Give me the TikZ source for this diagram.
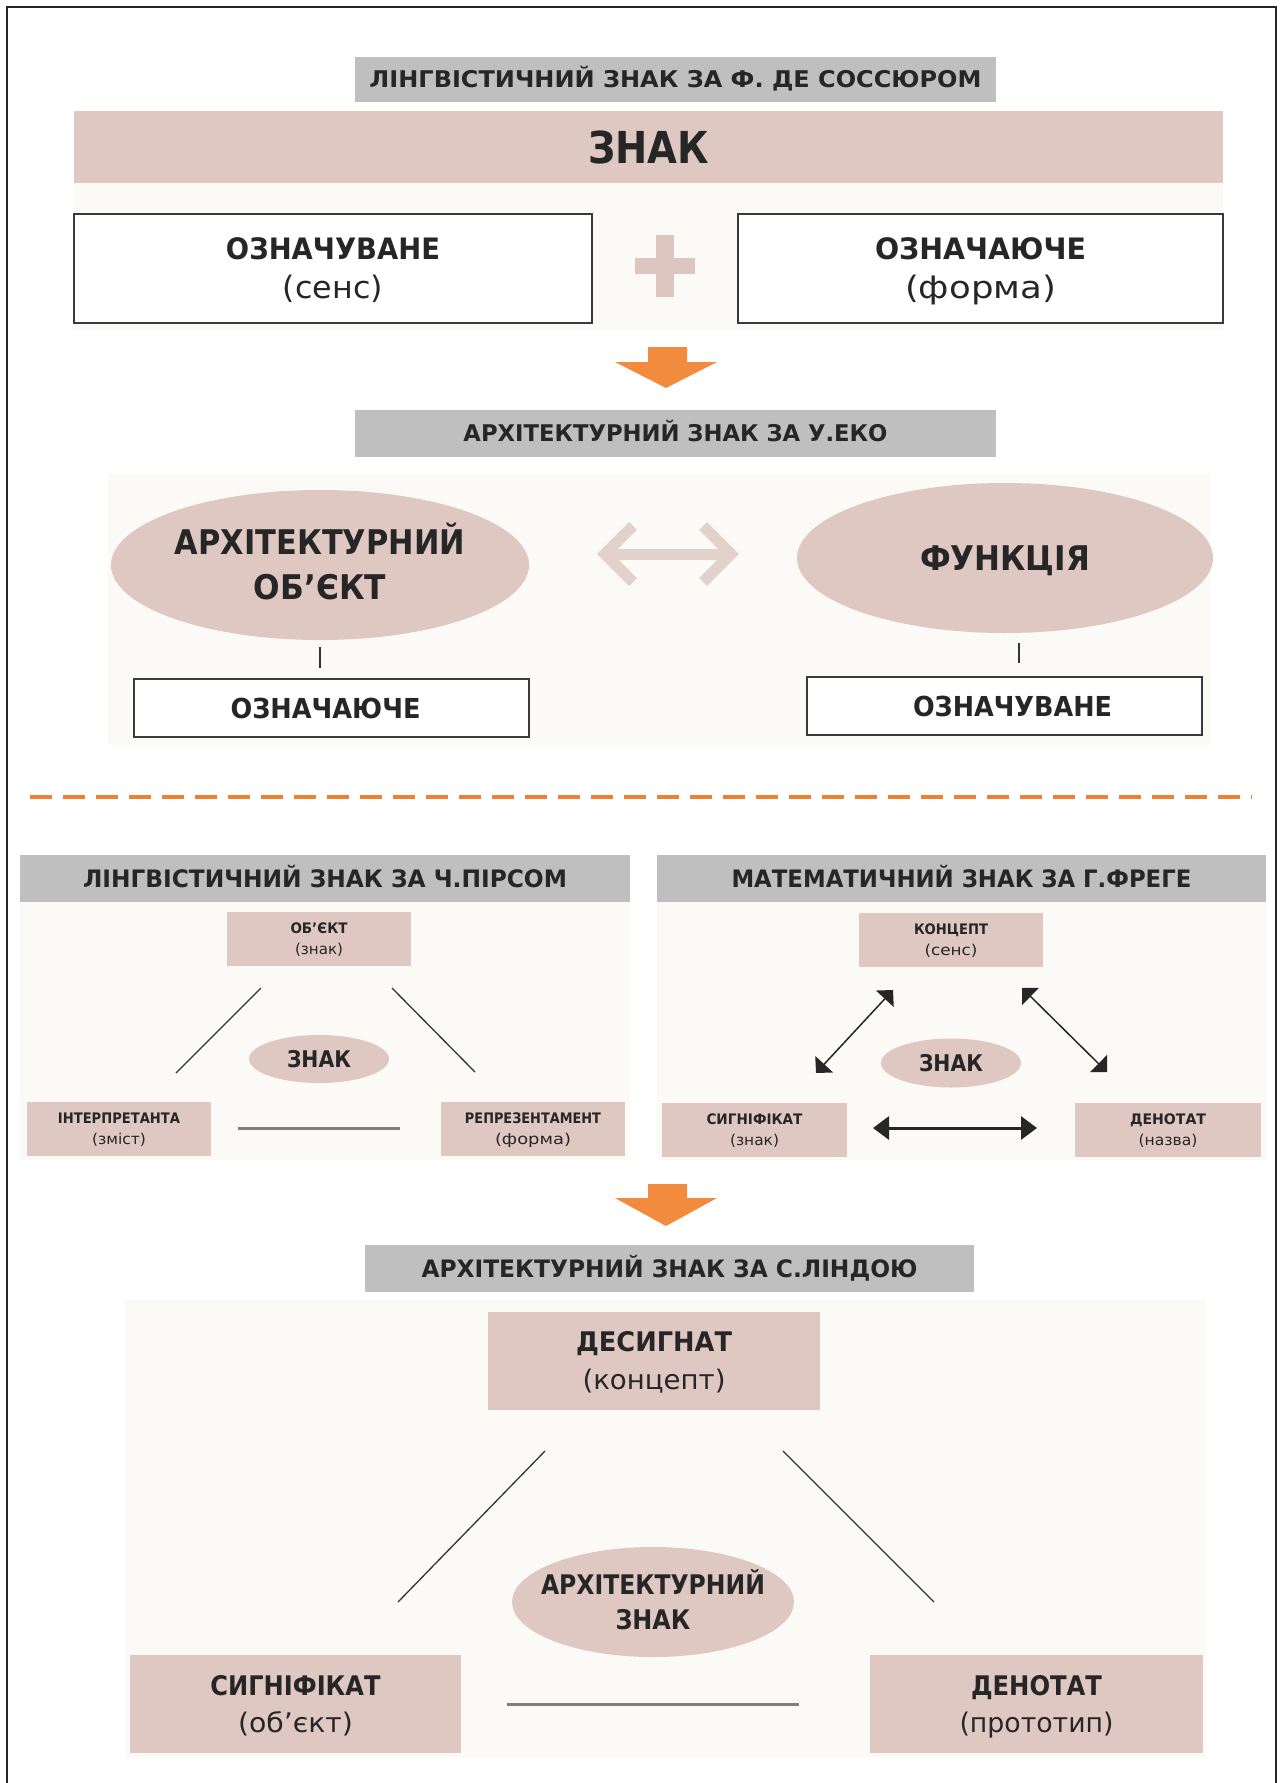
\documentclass[tikz,border=0pt]{standalone}
\usepackage{fontspec}
\setmainfont{DejaVu Sans}
\usetikzlibrary{arrows.meta,shapes.geometric}
\definecolor{cgray}{HTML}{BFBFBF}
\definecolor{cpink}{HTML}{DFC8C1}
\definecolor{ccream}{HTML}{FCFAF6}
\definecolor{ctext}{HTML}{262626}
\definecolor{corange}{HTML}{F28B3E}
\definecolor{cdash}{HTML}{F07F2E}
\definecolor{cplus}{HTML}{DDC6C0}
\definecolor{ceco}{HTML}{E3D2CC}
\definecolor{cline}{HTML}{333333}
\definecolor{cgline}{HTML}{7F7F7F}
\definecolor{cbord}{HTML}{3A3A3A}
\newcommand\B[3]{\resizebox{#2pt}{\height}{\fontsize{#1pt}{#1pt}\selectfont\bfseries #3}}
\newcommand\R[3]{\resizebox{#2pt}{\height}{\fontsize{#1pt}{#1pt}\selectfont #3}}
\begin{document}
\begin{tikzpicture}[x=1pt,y=-1pt,
  wh/.style 2 args={minimum width=#1pt,minimum height=#2pt},
  capht/.style={text height=#1pt,text depth=0pt},
  lead/.style={font=\fontsize{10pt}{#1pt}\selectfont},
  graybar/.style={fill=cgray,draw=none,inner sep=0pt,text=ctext},
  pinkbox/.style={fill=cpink,draw=none,inner sep=0pt,align=center,text=ctext},
  whitebox/.style={fill=white,draw=cbord,line width=1.6pt,inner sep=0pt,align=center,text=ctext},
  pinkell/.style={ellipse,fill=cpink,draw=none,inner sep=0pt,align=center,text=ctext},
  thinline/.style={draw=cline,line width=1.3pt},
  grayline/.style={draw=cgline,line width=3pt},
  blockarrow/.style={fill=corange,draw=none},
  ecoarrow/.style={draw=ceco,line width=11pt,line join=miter},
  frege/.style={draw=ctext,line width=1.5pt,{Triangle[length=12pt,width=24pt]}-{Triangle[length=12pt,width=24pt]}},
  fregeh/.style={draw=ctext,line width=3pt,{Triangle[length=16pt,width=23pt]}-{Triangle[length=16pt,width=23pt]}},
]
\useasboundingbox (0,0) rectangle (1282,1783);
\fill[white] (0,0) rectangle (1282,1783);
% frame
\draw[color=ctext,line width=2.5pt] (7,1783) -- (7,7) -- (1276,7) -- (1276,1783);

% ---------- Saussure ----------
\fill[ccream] (74,183) rectangle (1223,330);
\node[graybar,wh={641}{45},capht=16.8] (t1) at (675.5,79.5)
  {\B{23}{612}{ЛІНГВІСТИЧНИЙ ЗНАК ЗА Ф. ДЕ СОССЮРОМ}};
\node[pinkbox,wh={1149}{72},capht=32] (znak) at (648.5,147) {\B{44}{121}{ЗНАК}};
\node[whitebox,wh={518}{109},lead=39,capht=60.5] (s1) at (333,268.5)
  {\B{29.5}{214}{ОЗНАЧУВАНЕ}\\\R{31}{100}{(сенс)}};
\node[whitebox,wh={485}{109},lead=39,capht=60.5] (s2) at (980.5,268.5)
  {\B{29.5}{211}{ОЗНАЧАЮЧЕ}\\\R{31}{151}{(форма)}};
\fill[cplus] (656,235) rectangle (674,297);
\fill[cplus] (635,258) rectangle (695,274);
\fill[blockarrow] (648,347) -- (687,347) -- (687,362) -- (717,362) -- (666,388) -- (615,362) -- (648,362) -- cycle;

% ---------- Eco ----------
\node[graybar,wh={641}{47},capht=16.8] (t2) at (675.5,433.5)
  {\B{23}{424}{АРХІТЕКТУРНИЙ ЗНАК ЗА У.ЕКО}\hspace{24pt}};
\fill[ccream] (108,474) rectangle (1211,745);
\node[pinkell,wh={418}{150},lead=45,capht=69.8] (e1) at (320,565)
  {\B{34}{290}{АРХІТЕКТУРНИЙ}\\\B{34}{132}{ОБ’ЄКТ}};
\node[pinkell,wh={416}{150},capht=24.8] (e2) at (1005,558) {\B{34}{170}{ФУНКЦІЯ}};
\coordinate (da1) at (605,554);
\coordinate (da2) at (731,554);
\draw[ecoarrow] (da1) -- (da2);
\draw[ecoarrow] (633,526) -- (da1) -- (633,582);
\draw[ecoarrow] (703,526) -- (da2) -- (703,582);
\node[whitebox,wh={395}{58},capht=20] (e3) at (331.5,708) {\B{27.5}{190}{ОЗНАЧАЮЧЕ}\hspace{12pt}};
\node[whitebox,wh={395}{58},capht=20] (e4) at (1004.5,706) {\hspace{16pt}\B{27.5}{199}{ОЗНАЧУВАНЕ}};
\coordinate (k1a) at (320,647); \coordinate (k1b) at (320,668);
\coordinate (k2a) at (1019,643); \coordinate (k2b) at (1019,663);
\draw[thinline] (k1a) -- (k1b);
\draw[thinline] (k2a) -- (k2b);

% dashed separator
\coordinate (dl1) at (30,797); \coordinate (dl2) at (1252,797);
\draw[draw=cdash,line width=4pt,dash pattern=on 22pt off 11pt] (dl1) -- (dl2);

% ---------- Peirce ----------
\node[graybar,wh={610}{47},capht=17.5] (h3l) at (325,878.5)
  {\B{24}{484}{ЛІНГВІСТИЧНИЙ ЗНАК ЗА Ч.ПІРСОМ}\hspace{16pt}};
\fill[ccream] (20,902) rectangle (630,1160);
\node[pinkbox,wh={184}{54},lead=21,capht=31.2] (p1) at (319,939)
  {\B{14.5}{57}{ОБ’ЄКТ}\\\R{15}{48}{(знак)}};
\node[pinkell,wh={140}{48},capht=16.8] (p2) at (319,1059) {\B{23}{64}{ЗНАК}};
\node[pinkbox,wh={184}{54},lead=21,capht=31.2] (p3) at (119,1129)
  {\B{14.5}{122}{ІНТЕРПРЕТАНТА}\\\R{15}{54}{(зміст)}};
\node[pinkbox,wh={184}{54},lead=21,capht=31.2] (p4) at (533,1129)
  {\B{14.5}{136}{РЕПРЕЗЕНТАМЕНТ}\\\R{15}{76}{(форма)}};
\coordinate (pa1) at (261,988); \coordinate (pa2) at (176,1073);
\coordinate (pb1) at (392,988); \coordinate (pb2) at (475,1072);
\coordinate (pc1) at (238,1128); \coordinate (pc2) at (400,1128);
\draw[thinline] (pa1) -- (pa2);
\draw[thinline] (pb1) -- (pb2);
\draw[grayline] (pc1) -- (pc2);

% ---------- Frege ----------
\node[graybar,wh={609}{47},capht=17.5] (h3r) at (961.5,878.5)
  {\B{24}{460}{МАТЕМАТИЧНИЙ ЗНАК ЗА Г.ФРЕГЕ}};
\fill[ccream] (657,902) rectangle (1266,1160);
\node[pinkbox,wh={184}{54},lead=21,capht=31.2] (f1) at (951,940)
  {\B{14.5}{74}{КОНЦЕПТ}\\\R{15}{53}{(сенс)}};
\node[pinkell,wh={140}{49},capht=16.8] (f2) at (951,1063) {\B{23}{64}{ЗНАК}};
\node[pinkbox,wh={185}{54},lead=21,capht=31.2] (f3) at (754.5,1129.5)
  {\B{14.5}{96}{СИГНІФІКАТ}\\\R{15}{49}{(знак)}};
\node[pinkbox,wh={186}{54},lead=21,capht=31.2] (f4) at (1168,1129.5)
  {\B{14.5}{76}{ДЕНОТАТ}\\\R{15}{59}{(назва)}};
\coordinate (fa1) at (893,990); \coordinate (fa2) at (816,1073);
\coordinate (fb1) at (1022,988); \coordinate (fb2) at (1107,1072);
\coordinate (fc1) at (873,1128); \coordinate (fc2) at (1037,1128);
\draw[frege] (fa1) -- (fa2);
\draw[frege] (fb1) -- (fb2);
\draw[fregeh] (fc1) -- (fc2);

\fill[blockarrow] (648,1184) -- (687,1184) -- (687,1198) -- (717,1198) -- (666,1226) -- (615,1198) -- (648,1198) -- cycle;

% ---------- Linda ----------
\node[graybar,wh={609}{47},capht=17.5] (t4) at (669.5,1268.5)
  {\B{24}{496}{АРХІТЕКТУРНИЙ ЗНАК ЗА С.ЛІНДОЮ}};
\fill[ccream] (125,1300) rectangle (1206,1758);
\node[pinkbox,wh={332}{98},lead=38,capht=57.7] (l1) at (654,1361)
  {\B{27}{156}{ДЕСИГНАТ}\\\R{27}{143}{(концепт)}};
\node[pinkell,wh={282}{110},inner xsep=-14pt,inner ysep=-8pt,lead=35,capht=54.7] (l2) at (653,1602)
  {\B{27}{224}{АРХІТЕКТУРНИЙ}\\\B{27}{75}{ЗНАК}};
\node[pinkbox,wh={331}{98},lead=37,capht=56.7] (l3) at (295.5,1704)
  {\B{27}{170}{СИГНІФІКАТ}\\\R{27}{115}{(об'єкт)}};
\node[pinkbox,wh={333}{98},lead=37,capht=56.7] (l4) at (1036.5,1704)
  {\B{27}{131}{ДЕНОТАТ}\\\R{27}{154}{(прототип)}};
\coordinate (la1) at (545,1451); \coordinate (la2) at (398,1602);
\coordinate (lb1) at (783,1451); \coordinate (lb2) at (934,1602);
\coordinate (lc1) at (507,1704); \coordinate (lc2) at (799,1704);
\draw[thinline] (la1) -- (la2);
\draw[thinline] (lb1) -- (lb2);
\draw[grayline] (lc1) -- (lc2);
\end{tikzpicture}
\end{document}
